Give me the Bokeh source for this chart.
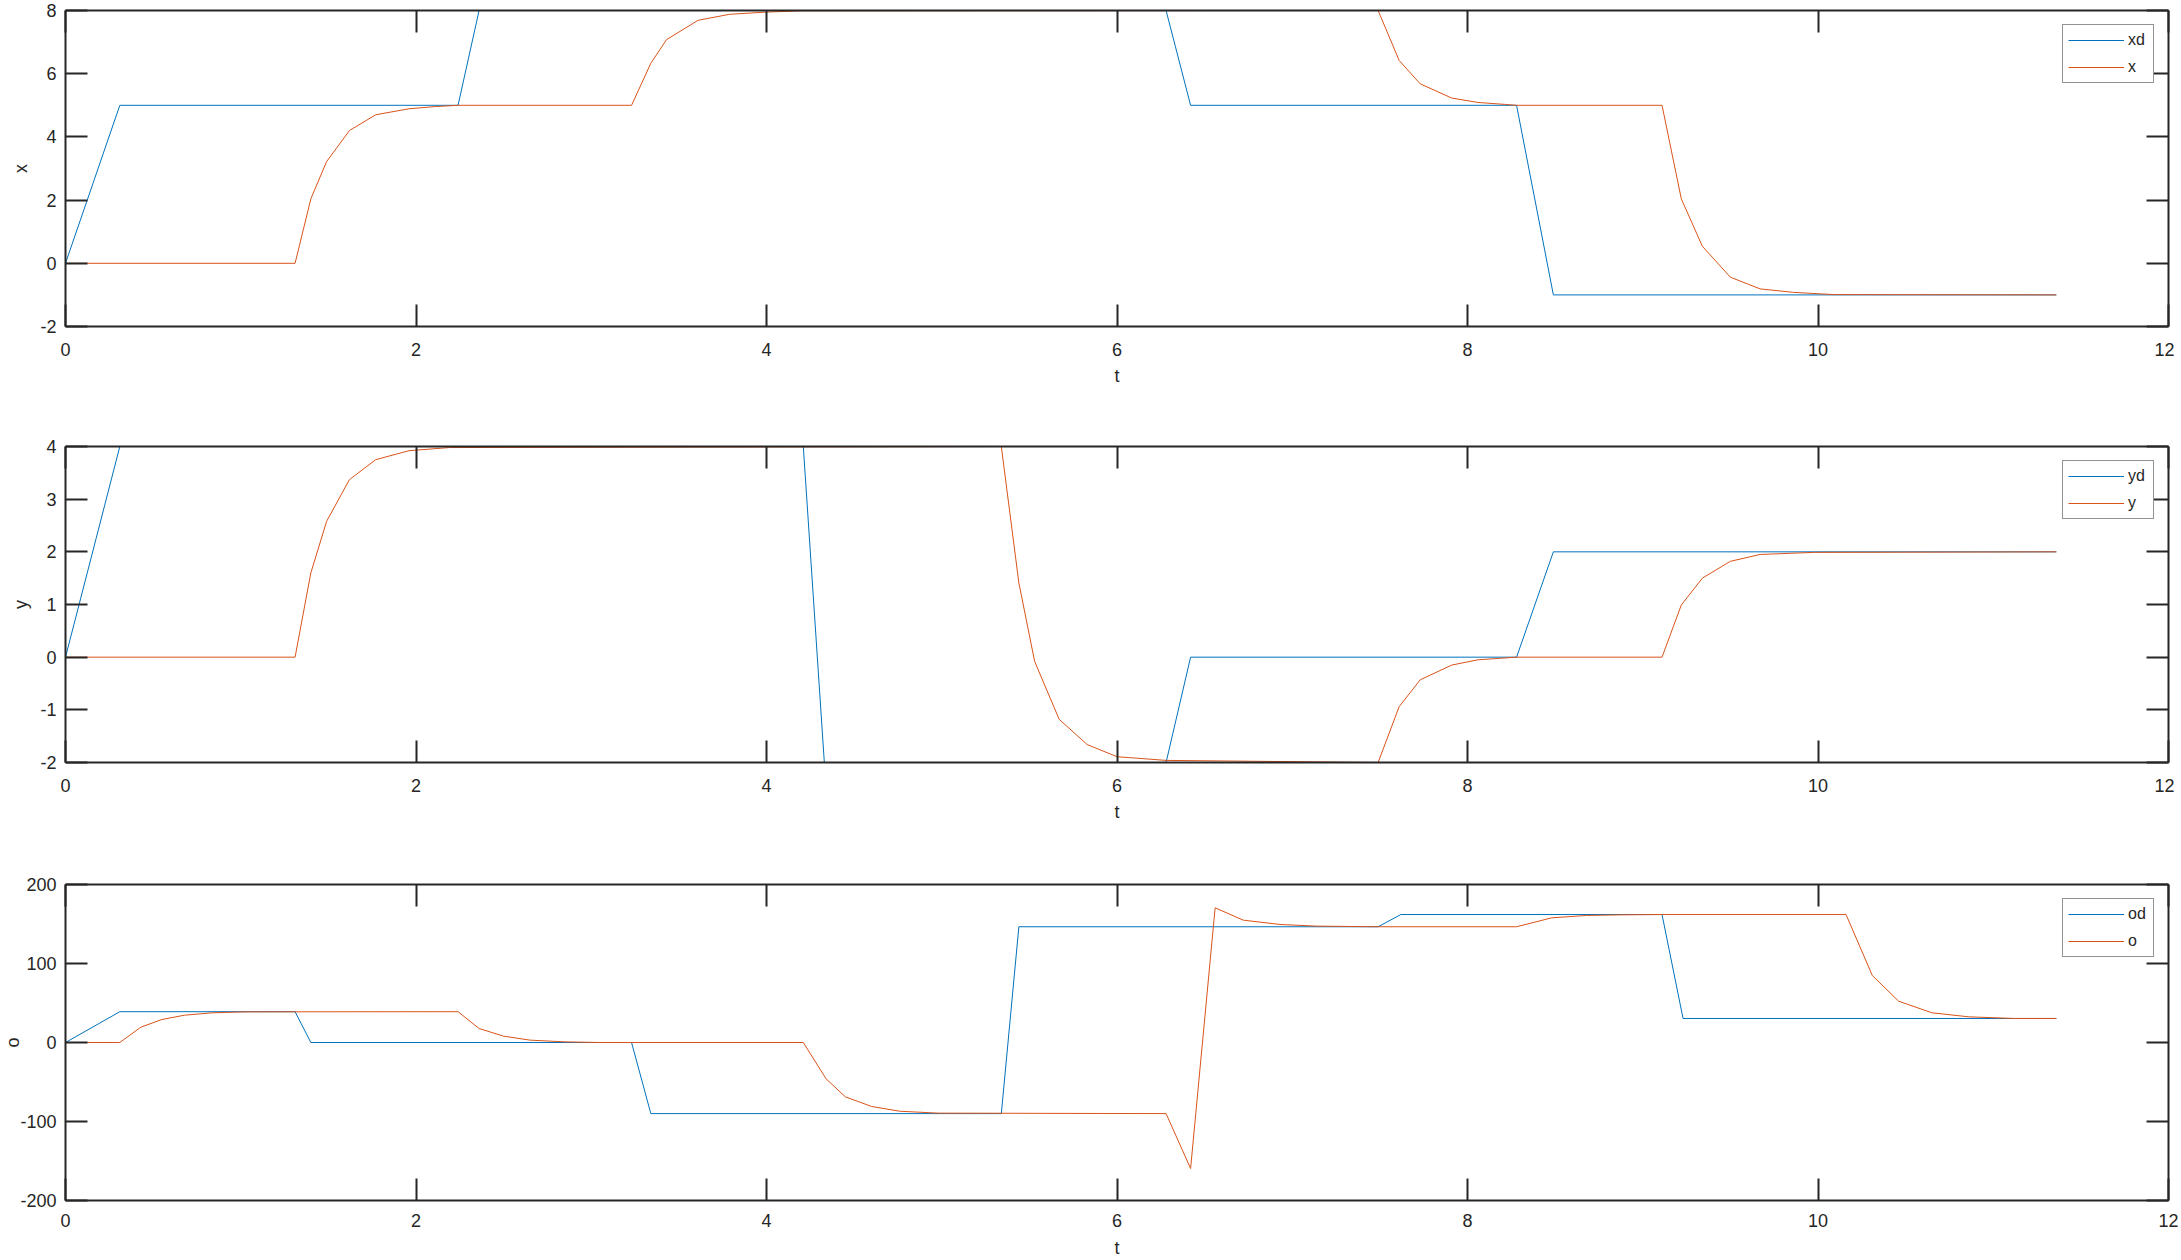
from bokeh.plotting import figure
from bokeh.layouts import column
from bokeh.models import Range1d, LinearAxis, FixedTicker, CustomJSTickFormatter
from bokeh.embed import file_html
from bokeh.resources import INLINE

# ---------------- data ----------------
x_ticks = [0, 2, 4, 6, 8, 10, 12]

xd_t = [0, 0.31, 2.24, 2.36, 6.28, 6.42, 8.28, 8.49, 11.36]
xd_v = [0, 5, 5, 8, 8, 5, 5, -1, -1]
x_t = [0, 1.31, 1.40, 1.49, 1.62, 1.77, 1.96, 2.11, 2.24, 3.23, 3.34, 3.43, 3.61,
       3.79, 4.00, 4.20, 7.49, 7.61, 7.73, 7.91, 8.06, 8.21, 8.28, 9.11, 9.22,
       9.34, 9.50, 9.67, 9.86, 10.09, 11.36]
x_v = [0, 0, 2.04, 3.22, 4.20, 4.70, 4.89, 4.96, 5.0, 5.0, 6.33, 7.08, 7.69,
       7.88, 7.95, 7.99, 8.0, 6.42, 5.68, 5.23, 5.09, 5.03, 5.0, 5.0, 2.04,
       0.54, -0.44, -0.81, -0.92, -0.99, -1.0]

yd_t = [0, 0.31, 4.21, 4.33, 6.28, 6.42, 8.28, 8.49, 11.36]
yd_v = [0, 4, 4, -2, -2, 0, 0, 2, 2]
y_t = [0, 1.31, 1.40, 1.49, 1.62, 1.77, 1.96, 2.19, 5.34, 5.44, 5.53, 5.67, 5.83,
       6.00, 6.28, 7.49, 7.61, 7.73, 7.91, 8.06, 8.28, 9.11, 9.22, 9.34, 9.50,
       9.67, 9.98, 11.36]
y_v = [0, 0, 1.6, 2.58, 3.37, 3.75, 3.92, 3.98, 4.0, 1.41, -0.08, -1.18, -1.66,
       -1.89, -1.96, -2.0, -0.94, -0.43, -0.15, -0.05, 0, 0, 0.99, 1.5, 1.82,
       1.95, 1.99, 2.0]

od_t = [0, 0.31, 1.31, 1.40, 3.23, 3.34, 5.34, 5.44, 7.49, 7.62, 9.11, 9.23, 11.36]
od_v = [0, 39, 39, 0, 0, -90, -90, 146.5, 146.5, 162, 162, 30.4, 30.4]
o_t = [0, 0.31, 0.43, 0.55, 0.68, 0.84, 1.03, 2.24, 2.36, 2.50, 2.65, 2.85, 3.05,
       4.21, 4.34, 4.45, 4.60, 4.76, 4.98, 6.28, 6.42, 6.56, 6.72, 6.93, 7.14,
       7.49, 8.28, 8.48, 8.68, 8.88, 9.11, 10.16, 10.31, 10.46, 10.65, 10.86,
       11.12, 11.36]
o_v = [0, 0, 19.4, 29.1, 34.6, 37.6, 38.8, 39, 17.7, 8.0, 3.0, 0.8, 0, 0, -46,
       -68.8, -81, -87, -89.4, -90, -159.5, 170.5, 154.9, 149.4, 147.3, 146.5,
       146.5, 157.8, 160.8, 161.6, 162, 162, 84.8, 52.3, 37.6, 32.5, 30.4, 30.4]

x_yticks = [-2, 0, 2, 4, 6, 8]
y_yticks = [-2, -1, 0, 1, 2, 3, 4]
o_yticks = [-200, -100, 0, 100, 200]

# ---------------- style ----------------
AXC = "#262626"
BLUE = "#0072BD"
ORANGE = "#D95319"
FONT = "Liberation Sans"
FW, FH = 2103, 316


def style_axis(ax, ticks, labels=True):
    ax.ticker = FixedTicker(ticks=ticks)
    ax.major_tick_in = 22
    ax.major_tick_out = 0
    ax.minor_tick_in = 0
    ax.minor_tick_out = 0
    ax.axis_line_color = AXC
    ax.axis_line_width = 2
    ax.major_tick_line_color = AXC
    ax.major_tick_line_width = 2
    ax.major_label_text_font = FONT
    ax.major_label_text_font_size = "18px"
    ax.major_label_text_color = AXC
    ax.axis_label_text_font = FONT
    ax.axis_label_text_font_size = "18px"
    ax.axis_label_text_font_style = "normal"
    ax.axis_label_text_color = AXC
    if labels:
        ax.major_label_overrides = {v: str(v) for v in ticks}
    else:
        ax.formatter = CustomJSTickFormatter(code="return ''")
        ax.major_label_standoff = 0
        ax.major_label_text_font_size = "1px"


def make_fig(tb, bb, yr, yticks, ylabel, t1, v1, t2, v2, n1, n2,
             ylab_standoff, xl_standoff, xlab_standoff):
    p = figure(frame_width=FW, frame_height=FH,
               x_range=Range1d(0, 12), y_range=Range1d(*yr),
               output_backend="svg", toolbar_location=None,
               min_border_left=61, min_border_right=10,
               min_border_top=tb, min_border_bottom=bb,
               background_fill_color="white", border_fill_color="white")
    p.grid.visible = False
    p.outline_line_color = None

    xa = p.xaxis[0]
    style_axis(xa, x_ticks)
    xa.axis_label = "t"
    xa.major_label_standoff = xl_standoff
    xa.axis_label_standoff = xlab_standoff

    ya = p.yaxis[0]
    style_axis(ya, yticks)
    ya.axis_label = ylabel
    ya.major_label_standoff = 9
    ya.axis_label_standoff = ylab_standoff

    top = LinearAxis()
    style_axis(top, x_ticks, labels=False)
    p.add_layout(top, "above")
    right = LinearAxis()
    style_axis(right, yticks, labels=False)
    p.add_layout(right, "right")

    p.line(t1, v1, line_color=BLUE, line_width=1, legend_label=n1)
    p.line(t2, v2, line_color=ORANGE, line_width=1, legend_label=n2)

    lg = p.legend[0]
    lg.location = "top_right"
    lg.margin = 14
    lg.padding = 5
    lg.spacing = 7
    lg.glyph_width = 56
    lg.glyph_height = 20
    lg.label_height = 20
    lg.label_standoff = 4
    lg.label_text_font = FONT
    lg.label_text_font_size = "16px"
    lg.label_text_color = AXC
    lg.border_line_color = AXC
    lg.border_line_width = 1
    lg.background_fill_color = "white"
    lg.background_fill_alpha = 1
    return p


p1 = make_fig(10, 62, (-2, 8), x_yticks, "x", xd_t, xd_v, x_t, x_v, "xd", "x", 6, 16, 7)
p2 = make_fig(58, 62, (-2, 4), y_yticks, "y", yd_t, yd_v, y_t, y_v, "yd", "y", 6, 16, 7)
p3 = make_fig(60, 58, (-200, 200), o_yticks, "o", od_t, od_v, o_t, o_v, "od", "o", -6, 13, 8)

layout = column(p1, p2, p3, spacing=0)
open("out.html", "w").write(file_html(layout, INLINE))
